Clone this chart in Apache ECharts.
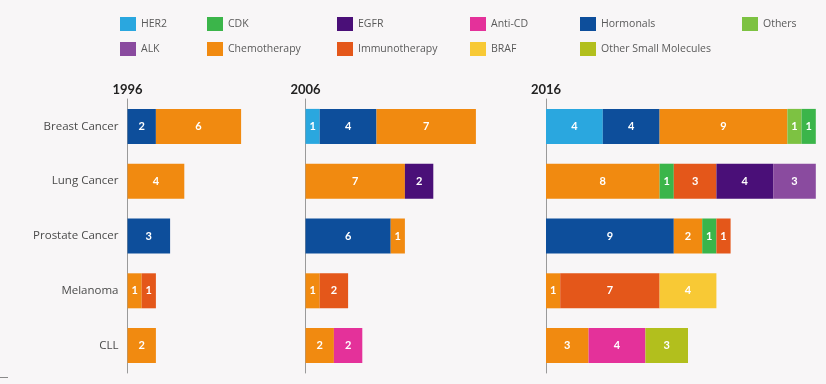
<!DOCTYPE html>
<html>
<head>
<meta charset="utf-8">
<script src="https://cdn.jsdelivr.net/npm/echarts@6/dist/echarts.min.js"></script>
<style>
  html, body { margin: 0; padding: 0; background: #f8f6f7; }
  #chart { width: 826px; height: 384px; }
</style>
</head>
<body>
<div id="chart"></div>
<script>
// Approved drugs per cancer type, by drug class, in three snapshot years
const years = ['1996', '2006', '2016'];
const categories = ['Breast Cancer', 'Lung Cancer', 'Prostate Cancer', 'Melanoma', 'CLL'];

// Each class: one row per year, one value per cancer type (null = none)
const HER2 = [
  [null, null, null, null, null],
  [1, null, null, null, null],
  [4, null, null, null, null]
];
const Hormonals = [
  [2, null, 3, null, null],
  [4, null, 6, null, null],
  [4, null, 9, null, null]
];
const Chemotherapy = [
  [6, 4, null, 1, 2],
  [7, 7, 1, 1, 2],
  [9, 8, 2, 1, 3]
];
const Others = [
  [null, null, null, null, null],
  [null, null, null, null, null],
  [1, null, null, null, null]
];
const CDK = [
  [null, null, null, null, null],
  [null, null, null, null, null],
  [1, 1, 1, null, null]
];
const Immunotherapy = [
  [null, null, null, 1, null],
  [null, null, null, 2, null],
  [null, 3, 1, 7, null]
];
const EGFR = [
  [null, null, null, null, null],
  [null, 2, null, null, null],
  [null, 4, null, null, null]
];
const ALK = [
  [null, null, null, null, null],
  [null, null, null, null, null],
  [null, 3, null, null, null]
];
const BRAF = [
  [null, null, null, null, null],
  [null, null, null, null, null],
  [null, null, null, 4, null]
];
const AntiCD = [
  [null, null, null, null, null],
  [null, null, null, null, 2],
  [null, null, null, null, 4]
];
const OtherSmallMolecules = [
  [null, null, null, null, null],
  [null, null, null, null, null],
  [null, null, null, null, 3]
];

// Stacking order of classes along each bar
const classes = [
  { name: 'HER2', data: HER2, color: '#2aa7df' },
  { name: 'Hormonals', data: Hormonals, color: '#0d4e9b' },
  { name: 'Chemotherapy', data: Chemotherapy, color: '#f18a10' },
  { name: 'Others', data: Others, color: '#7dc242' },
  { name: 'CDK', data: CDK, color: '#3bb54a' },
  { name: 'Immunotherapy', data: Immunotherapy, color: '#e4571a' },
  { name: 'EGFR', data: EGFR, color: '#4a0f78' },
  { name: 'ALK', data: ALK, color: '#8a4b9f' },
  { name: 'BRAF', data: BRAF, color: '#f8c935' },
  { name: 'Anti-CD', data: AntiCD, color: '#e4319a' },
  { name: 'Other Small Molecules', data: OtherSmallMolecules, color: '#b2bf1d' }
];

// Legend columns (two rows)
const legendColumns = [
  ['HER2', 'ALK'],
  ['CDK', 'Chemotherapy'],
  ['EGFR', 'Immunotherapy'],
  ['Anti-CD', 'BRAF'],
  ['Hormonals', 'Other Small Molecules'],
  ['Others']
];

const FONT = '"Open Sans", Lato, sans-serif';
const TITLE_FONT = 'Lato, "Open Sans", sans-serif';
const UNIT = 14.2;               // pixels per drug on every panel
const panelLeft = [127.5, 305.5, 546];
const panelMax = [10, 12, 19];
const legendLeft = [115, 202, 332, 465, 575, 737];

const chart = echarts.init(document.getElementById('chart'));

const grid = panelLeft.map((l, i) => ({
  left: l, top: 99, height: 274, width: panelMax[i] * UNIT, containLabel: false
}));

const xAxis = panelLeft.map((l, i) => ({
  gridIndex: i, type: 'value', min: 0, max: panelMax[i],
  show: false
}));

const yAxis = panelLeft.map((l, i) => ({
  gridIndex: i, type: 'category', data: categories, inverse: true,
  axisLine: { show: true, lineStyle: { color: '#9a9a9a', width: 1 } },
  axisTick: { show: false },
  axisLabel: {
    show: i === 0, color: '#4a4a4a', fontFamily: FONT, fontSize: 11.5, margin: 9
  },
  splitLine: { show: false }
}));

const series = [];
years.forEach((y, gi) => {
  classes.forEach(c => {
    series.push({
      name: c.name, type: 'bar', stack: 'total' + gi,
      xAxisIndex: gi, yAxisIndex: gi,
      barWidth: 35,
      itemStyle: { color: c.color },
      label: {
        show: true, position: 'inside', color: '#fff',
        fontFamily: TITLE_FONT, fontWeight: 'bold', fontSize: 11,
        formatter: p => (p.value == null ? '' : p.value)
      },
      emphasis: { disabled: true },
      data: c.data[gi]
    });
  });
});

const legend = legendColumns.map((col, i) => ({
  data: col, orient: 'vertical', left: legendLeft[i], top: 12,
  itemWidth: 16, itemHeight: 14, itemGap: 11, icon: 'rect',
  textStyle: { color: '#5a5a5a', fontFamily: FONT, fontSize: 10.5 },
  selectedMode: false
}));

const graphic = years.map((y, i) => ({
  type: 'text', x: panelLeft[i], y: 90,
  style: {
    text: y, align: 'center', verticalAlign: 'middle',
    font: 'bold 13px ' + TITLE_FONT, fill: '#222'
  }
}));
graphic.push({
  type: 'line', shape: { x1: 0, y1: 377.5, x2: 8, y2: 377.5 },
  style: { stroke: '#8a8a8a', lineWidth: 1 }
});

chart.setOption({
  backgroundColor: '#f8f6f7',
  animation: false,
  grid, xAxis, yAxis, series, legend, graphic
});
</script>
</body>
</html>
